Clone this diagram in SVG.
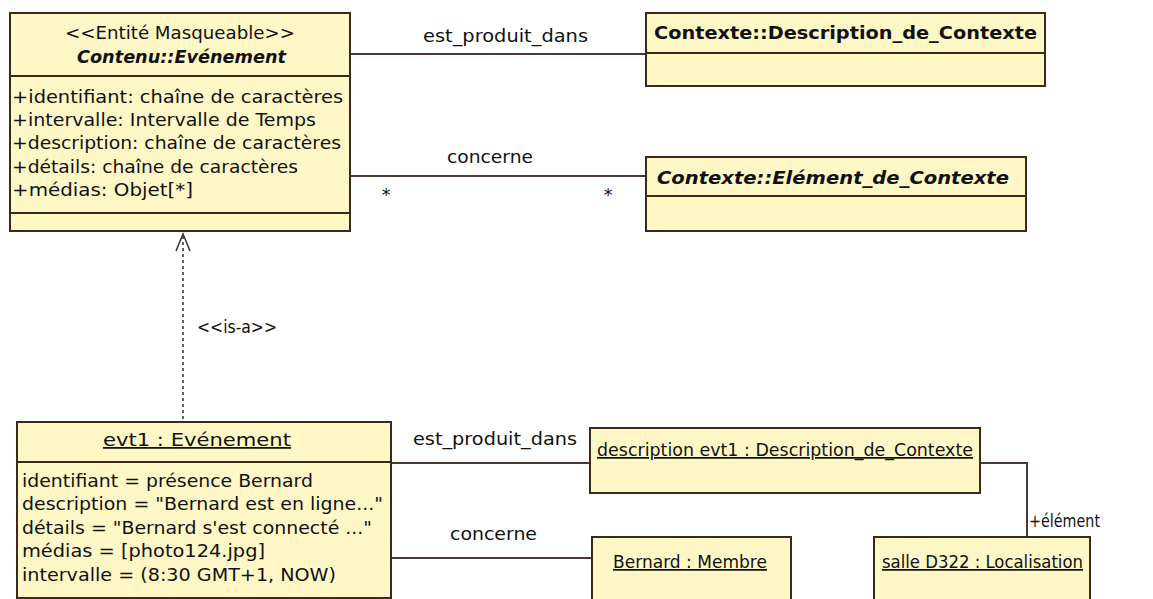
<svg xmlns="http://www.w3.org/2000/svg" width="1153" height="599" viewBox="0 0 1153 599">
<style>
.box{fill:#FFF8C6;stroke:#3a2a1e;stroke-width:2}
.sep{stroke:#3a2a1e;stroke-width:2}
text{font-family:"DejaVu Sans","Liberation Sans",sans-serif;font-size:17.5px;fill:#111}
.b{font-weight:bold}
.bi{font-weight:bold;font-style:italic}
.u{text-decoration:underline}
.c{text-anchor:middle}
.ln{stroke:#4a3a35;stroke-width:2;fill:none}
.dash{stroke:#333;stroke-width:1.5;stroke-dasharray:3 3;fill:none}
</style>
<rect width="1153" height="599" fill="#FFFFFF"/>
<g id="connectors">
<line class="ln" x1="350" y1="54" x2="646" y2="54"/>
<line class="ln" x1="350" y1="176" x2="646" y2="176"/>
<line class="dash" x1="183" y1="236" x2="183" y2="422"/>
<polyline fill="none" stroke="#333" stroke-width="1.5" points="176,251 183,234 190,251"/>
<line class="ln" x1="391" y1="463" x2="590" y2="463"/>
<line class="ln" x1="391" y1="558" x2="592" y2="558"/>
<polyline class="ln" points="980,463 1027,463 1027,537"/>
<text x="423" y="42" textLength="165" lengthAdjust="spacingAndGlyphs">est_produit_dans</text>
<text x="447" y="163" textLength="86" lengthAdjust="spacingAndGlyphs">concerne</text>
<text x="386" y="201" class="c">*</text>
<text x="608" y="201" class="c">*</text>
<text x="197" y="333" textLength="80" lengthAdjust="spacingAndGlyphs">&lt;&lt;is-a&gt;&gt;</text>
<text x="413" y="445" textLength="164" lengthAdjust="spacingAndGlyphs">est_produit_dans</text>
<text x="450" y="540" textLength="87" lengthAdjust="spacingAndGlyphs">concerne</text>
<text x="1029" y="527" textLength="71" lengthAdjust="spacingAndGlyphs">+élément</text>
</g>
<g id="evenement">
<rect class="box" x="10" y="13" width="340" height="218"/>
<line class="sep" x1="10" y1="76" x2="350" y2="76"/>
<line class="sep" x1="10" y1="213" x2="350" y2="213"/>
<text x="65" y="39" textLength="230" lengthAdjust="spacingAndGlyphs">&lt;&lt;Entité Masqueable&gt;&gt;</text>
<text x="77" y="63" class="bi" textLength="209" lengthAdjust="spacingAndGlyphs">Contenu::Evénement</text>
<text x="12" y="103" textLength="331" lengthAdjust="spacingAndGlyphs">+identifiant: chaîne de caractères</text>
<text x="12" y="126" textLength="304" lengthAdjust="spacingAndGlyphs">+intervalle: Intervalle de Temps</text>
<text x="12" y="149" textLength="329" lengthAdjust="spacingAndGlyphs">+description: chaîne de caractères</text>
<text x="12" y="173" textLength="286" lengthAdjust="spacingAndGlyphs">+détails: chaîne de caractères</text>
<text x="12" y="196" textLength="181" lengthAdjust="spacingAndGlyphs">+médias: Objet[*]</text>
</g>
<g id="description_de_contexte">
<rect class="box" x="646" y="13" width="399" height="73"/>
<line class="sep" x1="646" y1="53" x2="1045" y2="53"/>
<text x="654" y="39" class="b" textLength="383" lengthAdjust="spacingAndGlyphs">Contexte::Description_de_Contexte</text>
</g>
<g id="element_de_contexte">
<rect class="box" x="646" y="157" width="380" height="74"/>
<line class="sep" x1="646" y1="196" x2="1026" y2="196"/>
<text x="657" y="184" class="bi" textLength="352" lengthAdjust="spacingAndGlyphs">Contexte::Elément_de_Contexte</text>
</g>
<g id="evt1">
<rect class="box" x="17" y="422" width="374" height="176"/>
<line class="sep" x1="17" y1="462" x2="391" y2="462"/>
<text x="103" y="446" class="u" textLength="188" lengthAdjust="spacingAndGlyphs">evt1 : Evénement</text>
<text x="22" y="487" textLength="291" lengthAdjust="spacingAndGlyphs">identifiant = présence Bernard</text>
<text x="22" y="510" textLength="361" lengthAdjust="spacingAndGlyphs">description = "Bernard est en ligne..."</text>
<text x="22" y="534" textLength="350" lengthAdjust="spacingAndGlyphs">détails = "Bernard s'est connecté ..."</text>
<text x="22" y="557" textLength="243" lengthAdjust="spacingAndGlyphs">médias = [photo124.jpg]</text>
<text x="22" y="581" textLength="314" lengthAdjust="spacingAndGlyphs">intervalle = (8:30 GMT+1, NOW)</text>
</g>
<g id="description_evt1">
<rect class="box" x="590" y="428" width="390" height="65"/>
<text x="597" y="456" class="u" textLength="376" lengthAdjust="spacingAndGlyphs">description evt1 : Description_de_Contexte</text>
</g>
<g id="bernard">
<rect class="box" x="592" y="537" width="199" height="70"/>
<text x="613" y="568" class="u" textLength="154" lengthAdjust="spacingAndGlyphs">Bernard : Membre</text>
</g>
<g id="salle">
<rect class="box" x="874" y="537" width="216" height="70"/>
<text x="882" y="568" class="u" textLength="201" lengthAdjust="spacingAndGlyphs">salle D322 : Localisation</text>
</g>
</svg>
